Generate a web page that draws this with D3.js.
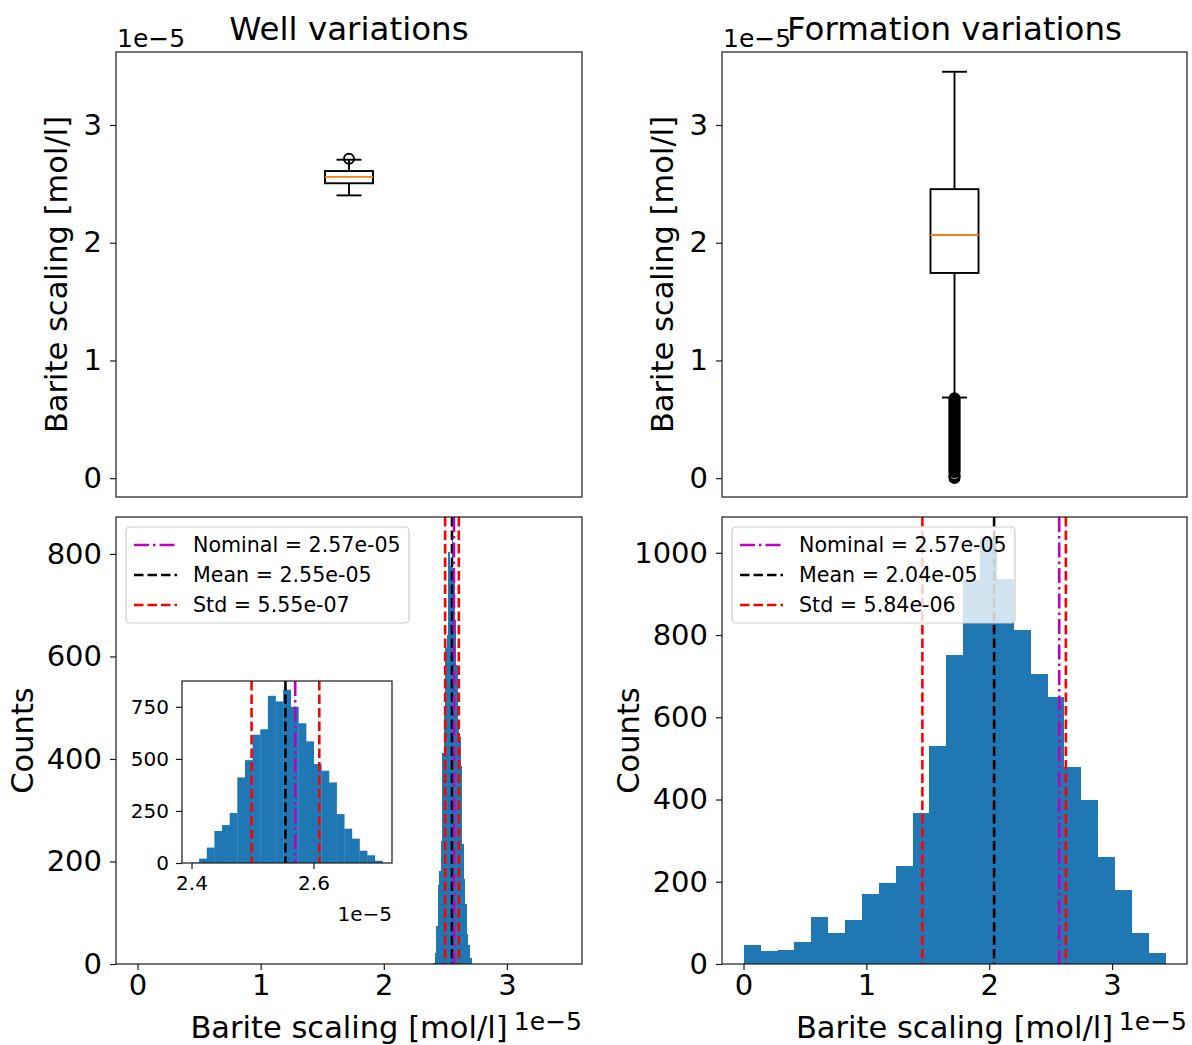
<!DOCTYPE html>
<html><head><meta charset="utf-8">
<script src="https://cdn.jsdelivr.net/npm/d3@7"></script>
<style>body{margin:0;background:#fff}svg{display:block;font-family:"DejaVu Sans",sans-serif}</style>
</head><body><svg id="c" width="1192" height="1045"></svg>
<script>
// ---------- data (values in units of 1e-5 mol/l) ----------
const titles = ["Well variations", "Formation variations"];
const yTicksTop = [0, 1, 2, 3];
const xTicksBottom = [0, 1, 2, 3];
const yTicksWell = [0, 200, 400, 600, 800];
const yTicksForm = [0, 200, 400, 600, 800, 1000];
const insetXTicks = [2.4, 2.6];
const insetYTicks = [0, 250, 500, 750];

const wellRange = [2.400, 2.713];
const wellCounts = [2, 21, 74, 154, 182, 240, 411, 494, 616, 642, 803, 776, 832, 750, 671, 584, 475, 443, 387, 235, 165, 117, 59, 37, 11];
const formRange = [0.002, 3.437];
const formCounts = [46, 31, 33, 53, 114, 75, 107, 171, 198, 239, 368, 530, 751, 933, 1035, 936, 813, 705, 649, 479, 399, 261, 179, 75, 27];

const wellBox = {low: 2.402, q1: 2.505, med: 2.559, q3: 2.609, high: 2.705};
const wellFliers = [2.713];
const formBox = {low: 0.685, q1: 1.743, med: 2.065, q3: 2.455, high: 3.452};
const formFliers = [0.0, 0.01, 0.02, 0.03, 0.05, 0.06, 0.07, 0.08, 0.09, 0.10, 0.11, 0.12, 0.13, 0.14, 0.15, 0.16, 0.17, 0.18, 0.19, 0.20, 0.21, 0.22, 0.23, 0.24, 0.25, 0.26, 0.27, 0.28, 0.29, 0.30, 0.31, 0.32, 0.33, 0.34, 0.35, 0.36, 0.37, 0.38, 0.39, 0.40, 0.41, 0.42, 0.43, 0.44, 0.45, 0.46, 0.47, 0.48, 0.49, 0.50, 0.51, 0.52, 0.53, 0.54, 0.55, 0.56, 0.57, 0.58, 0.59, 0.60, 0.61, 0.62, 0.63, 0.64, 0.65, 0.66, 0.67, 0.68];

const wellStats = {nominal: 2.57, mean: 2.554, std: 0.0555, labels: ["Nominal = 2.57e-05", "Mean = 2.55e-05", "Std = 5.55e-07"]};
const formStats = {nominal: 2.57, mean: 2.04, std: 0.584, labels: ["Nominal = 2.57e-05", "Mean = 2.04e-05", "Std = 5.84e-06"]};

// ---------- drawing ----------
const svg = d3.select("#c");
const BLUE = "#1f77b4", AX = "#1a1a1a";
const F_TICK = 29, F_LAB = 30.5, F_TITLE = 32.5, F_LEG = 20.6, F_OFF = 25, F_IN = 20;

function bins(range, counts) {
  const w = (range[1] - range[0]) / counts.length;
  return counts.map((c, i) => ({x0: range[0] + i * w, x1: range[0] + (i + 1) * w, c}));
}

function frame(g, x0, y0, x1, y1) {
  g.append("rect").attr("x", x0).attr("y", y0).attr("width", x1 - x0).attr("height", y1 - y0)
    .attr("fill", "none").attr("stroke", AX).attr("stroke-width", 1.2);
}

function yAxis(g, y, x0, ticks, fs, pad, fmt) {
  const ax = d3.axisLeft(y).tickValues(ticks).tickSize(6).tickPadding(pad).tickFormat(fmt || d3.format("d"));
  const a = g.append("g").attr("transform", `translate(${x0},0)`).call(ax);
  a.select(".domain").remove();
  a.selectAll("line").attr("stroke", AX).attr("stroke-width", 1.2);
  a.selectAll("text").attr("font-size", fs).attr("font-family", "DejaVu Sans").attr("fill", "#000");
}
function xAxis(g, x, y0, ticks, fs, pad, fmt) {
  const ax = d3.axisBottom(x).tickValues(ticks).tickSize(6).tickPadding(pad).tickFormat(fmt || d3.format("d"));
  const a = g.append("g").attr("transform", `translate(0,${y0})`).call(ax);
  a.select(".domain").remove();
  a.selectAll("line").attr("stroke", AX).attr("stroke-width", 1.2);
  a.selectAll("text").attr("font-size", fs).attr("font-family", "DejaVu Sans").attr("fill", "#000");
}

function text(g, x, y, s, fs, anchor, rot) {
  const t = g.append("text").attr("font-size", fs).attr("text-anchor", anchor || "middle").attr("fill", "#000").text(s);
  if (rot) t.attr("transform", `translate(${x},${y}) rotate(${rot})`); else t.attr("x", x).attr("y", y);
  return t;
}

const DASH = "9.5,4", DASHDOT = "15,4,2.5,4";
function statLines(g, x, y0, y1, st, lw) {
  const defs = [
    {v: st.mean - st.std, c: "red", d: DASH},
    {v: st.mean + st.std, c: "red", d: DASH},
    {v: st.mean, c: "black", d: DASH},
    {v: st.nominal, c: "#bf00bf", d: DASHDOT}
  ];
  g.selectAll(null).data(defs).join("line")
    .attr("x1", d => x(d.v)).attr("x2", d => x(d.v)).attr("y1", y0).attr("y2", y1)
    .attr("stroke", d => d.c).attr("stroke-width", lw).attr("stroke-dasharray", d => d.d);
}

function legend(g, x0, y0, labels) {
  const w = 283, h = 96;
  g.append("rect").attr("x", x0).attr("y", y0).attr("width", w).attr("height", h).attr("rx", 4)
    .attr("fill", "white").attr("fill-opacity", 0.8).attr("stroke", "#cccccc").attr("stroke-width", 1.2);
  const items = [{c: "#bf00bf", d: DASHDOT}, {c: "black", d: DASH}, {c: "red", d: DASH}];
  items.forEach((it, i) => {
    const yy = y0 + 18 + i * 30;
    g.append("line").attr("x1", x0 + 8).attr("x2", x0 + 51).attr("y1", yy).attr("y2", yy)
      .attr("stroke", it.c).attr("stroke-width", 2.6).attr("stroke-dasharray", it.d);
    text(g, x0 + 67, yy + 7.4, labels[i], F_LEG, "start");
  });
}

function boxplot(g, y, cx, b, fliers) {
  const bw = 48, cw = 25, lw = 1.9;
  const ln = (x1, y1, x2, y2, col) => g.append("line").attr("x1", x1).attr("y1", y1).attr("x2", x2).attr("y2", y2)
    .attr("stroke", col || "black").attr("stroke-width", lw);
  ln(cx, y(b.q1), cx, y(b.low)); ln(cx, y(b.q3), cx, y(b.high));
  ln(cx - cw / 2, y(b.low), cx + cw / 2, y(b.low)); ln(cx - cw / 2, y(b.high), cx + cw / 2, y(b.high));
  g.append("rect").attr("x", cx - bw / 2).attr("y", y(b.q3)).attr("width", bw).attr("height", y(b.q1) - y(b.q3))
    .attr("fill", "none").attr("stroke", "black").attr("stroke-width", lw);
  ln(cx - bw / 2, y(b.med), cx + bw / 2, y(b.med), "#ff7f0e");
  g.selectAll(null).data(fliers).join("circle").attr("cx", cx).attr("cy", d => y(d)).attr("r", 5)
    .attr("fill", "none").attr("stroke", "black").attr("stroke-width", 1.9);
}

const panels = [
  {L: 116, R: 582},
  {L: 722, R: 1187}
];
const TOP = [52, 497], BOT = [517, 964];
const yTop = d3.scaleLinear().domain([-0.16, 3.62]).range([TOP[1], TOP[0]]);

// top row: box plots
[[wellBox, wellFliers], [formBox, formFliers]].forEach(([b, fl], i) => {
  const p = panels[i];
  const g = svg.append("g");
  boxplot(g, yTop, (p.L + p.R) / 2, b, fl);
  frame(g, p.L, TOP[0], p.R, TOP[1]);
  yAxis(g, yTop, p.L, yTicksTop, F_TICK, 8);
  text(g, (p.L + p.R) / 2, 40, titles[i], F_TITLE);
  text(g, p.L + 1, 47, "1e\u22125", F_OFF, "start");
  text(g, p.L - 49, (TOP[0] + TOP[1]) / 2, "Barite scaling [mol/l]", F_LAB, "middle", -90);
});

// bottom row: histograms
const hists = [
  {range: wellRange, counts: wellCounts, st: wellStats, ymax: 872, ticks: yTicksWell},
  {range: formRange, counts: formCounts, st: formStats, ymax: 1087, ticks: yTicksForm}
];
hists.forEach((h, i) => {
  const p = panels[i];
  const g = svg.append("g");
  const x = d3.scaleLinear().domain([-0.175, 3.61]).range([p.L, p.R]);
  const y = d3.scaleLinear().domain([0, h.ymax]).range([BOT[1], BOT[0]]);
  g.selectAll(null).data(bins(h.range, h.counts)).join("rect")
    .attr("x", d => x(d.x0)).attr("width", d => Math.max(0, x(d.x1) - x(d.x0)))
    .attr("y", d => y(d.c)).attr("height", d => y(0) - y(d.c)).attr("fill", BLUE)
    .attr("shape-rendering", "crispEdges");
  statLines(g, x, BOT[0], BOT[1], h.st, 2.6);
  legend(g, p.L + 10, BOT[0] + 10, h.st.labels);
  frame(g, p.L, BOT[0], p.R, BOT[1]);
  yAxis(g, y, p.L, h.ticks, F_TICK, 8);
  xAxis(g, x, BOT[1], xTicksBottom, F_TICK, 4);
  text(g, (p.L + p.R) / 2, 1038, "Barite scaling [mol/l]", F_LAB);
  text(g, p.R, 1030, "1e\u22125", F_OFF, "end");
  text(g, p.L - 83, (BOT[0] + BOT[1]) / 2, "Counts", F_LAB, "middle", -90);

  if (i === 0) {
    // inset
    const IL = 182, IR = 392, IT = 681, IB = 863;
    const gi = svg.append("g");
    gi.append("rect").attr("x", IL).attr("y", IT).attr("width", IR - IL).attr("height", IB - IT).attr("fill", "white");
    const xi = d3.scaleLinear().domain([2.3844, 2.7287]).range([IL, IR]);
    const yi = d3.scaleLinear().domain([0, 874]).range([IB, IT]);
    gi.selectAll(null).data(bins(h.range, h.counts)).join("rect")
      .attr("x", d => xi(d.x0)).attr("width", d => xi(d.x1) - xi(d.x0) + 0.3)
      .attr("y", d => yi(d.c)).attr("height", d => yi(0) - yi(d.c)).attr("fill", BLUE);
    statLines(gi, xi, IT, IB, h.st, 2.6);
    frame(gi, IL, IT, IR, IB);
    yAxis(gi, yi, IL, insetYTicks, F_IN, 7);
    xAxis(gi, xi, IB, insetXTicks, F_IN, 7, d3.format(".1f"));
    text(gi, IR, 921, "1e\u22125", F_IN, "end");
  }
});
</script></body></html>
